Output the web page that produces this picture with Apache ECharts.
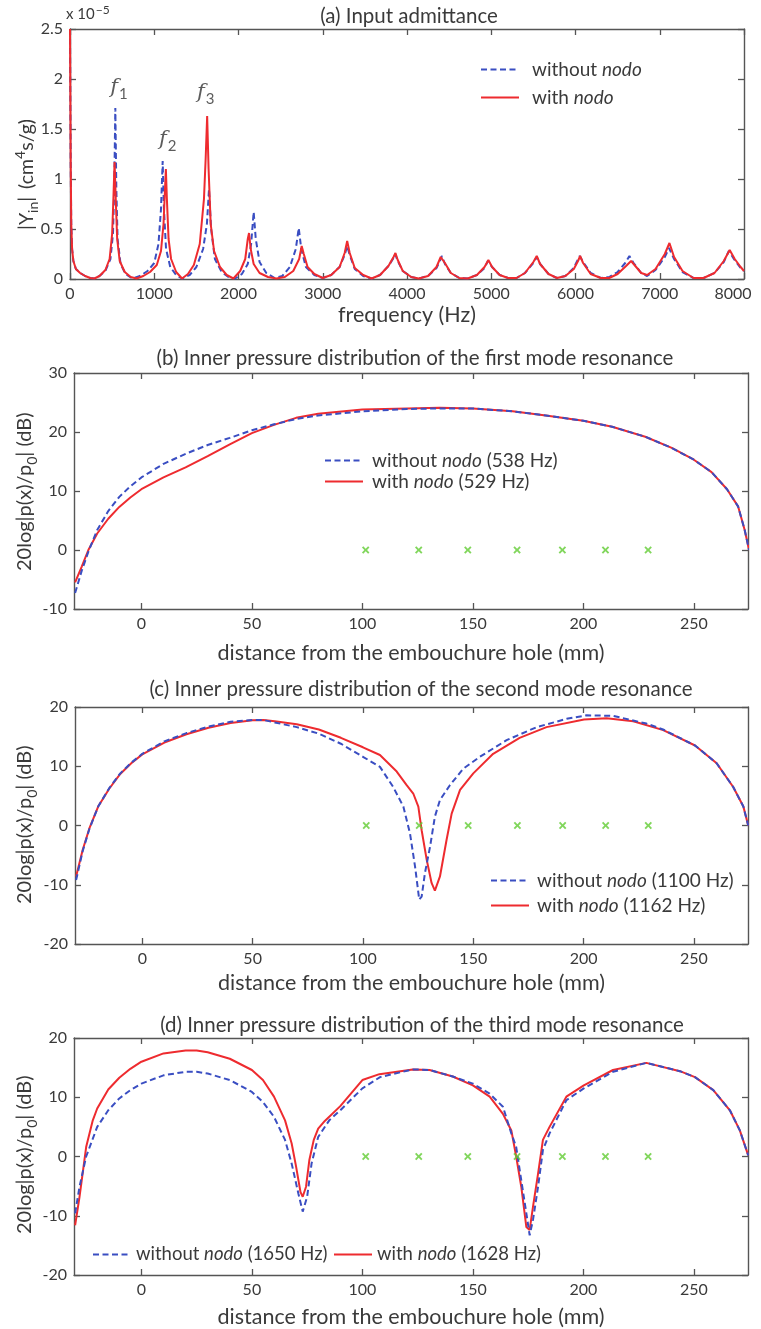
<!DOCTYPE html>
<html><head><meta charset="utf-8">
<script src="https://cdn.jsdelivr.net/npm/echarts@6/dist/echarts.min.js"></script>
<style>html,body{margin:0;padding:0;background:#fff}#c{width:761px;height:1329px}</style>
</head><body><div id="c"></div><script>
// ---------- Panel (a) data: input admittance (x1e-5 cm^4 s/g) ----------
const admFreqWithout = [0,8,15,25,40,70,120,180,240,290,350,420,480,510,525,538,550,565,600,660,740,830,920,1000,1050,1080,1100,1115,1140,1190,1260,1330,1420,1500,1580,1625,1650,1675,1720,1800,1880,1960,2040,2110,2150,2180,2205,2250,2330,2430,2520,2610,2680,2715,2745,2800,2900,3000,3100,3200,3260,3290,3320,3380,3480,3580,3680,3780,3840,3860,3890,3950,4050,4140,4250,4350,4400,4415,4450,4520,4620,4720,4830,4920,4960,5010,5100,5200,5300,5400,5500,5540,5580,5680,5780,5880,5980,6030,6050,6090,6180,6300,6400,6500,6590,6640,6690,6780,6850,6950,7060,7110,7170,7270,7400,7520,7650,7760,7820,7880,7960,8000];
const admWithout = [2.5,1.2,0.55,0.3,0.18,0.1,0.06,0.03,0.01,0.005,0.03,0.08,0.2,0.45,0.9,1.71,0.9,0.4,0.15,0.05,0.005,0.03,0.08,0.16,0.35,0.7,1.18,0.7,0.3,0.12,0.04,0.005,0.04,0.12,0.3,0.55,0.9,0.5,0.2,0.07,0.02,0.005,0.05,0.15,0.35,0.67,0.4,0.17,0.06,0.01,0.03,0.12,0.3,0.51,0.3,0.12,0.04,0.01,0.04,0.12,0.24,0.33,0.24,0.1,0.03,0.005,0.04,0.13,0.21,0.25,0.18,0.08,0.02,0.005,0.03,0.11,0.2,0.23,0.15,0.06,0.01,0.005,0.04,0.11,0.18,0.12,0.04,0.01,0.01,0.06,0.16,0.22,0.15,0.05,0.01,0.03,0.11,0.2,0.23,0.17,0.06,0.01,0.02,0.07,0.16,0.23,0.16,0.06,0.03,0.09,0.22,0.31,0.2,0.07,0.01,0.01,0.06,0.17,0.28,0.2,0.11,0.08];
const admFreqWith = [0,8,15,25,40,70,120,180,240,290,350,420,470,500,515,529,543,560,590,650,720,790,870,950,1030,1080,1110,1125,1138,1150,1170,1200,1260,1330,1400,1470,1540,1590,1610,1628,1645,1670,1710,1780,1860,1940,2020,2080,2110,2125,2145,2180,2250,2350,2450,2550,2650,2720,2750,2775,2820,2900,3000,3100,3200,3260,3290,3320,3380,3480,3580,3680,3780,3840,3863,3890,3950,4050,4140,4250,4350,4400,4420,4450,4520,4620,4720,4830,4920,4966,5010,5100,5200,5300,5400,5500,5540,5580,5680,5780,5880,5980,6030,6055,6090,6180,6300,6400,6500,6600,6660,6700,6780,6850,6950,7060,7115,7170,7270,7400,7520,7650,7760,7830,7890,7960,8000];
const admWith = [2.5,1.2,0.55,0.3,0.18,0.1,0.06,0.03,0.01,0.005,0.03,0.09,0.2,0.45,0.8,1.17,0.8,0.4,0.18,0.07,0.02,0.005,0.03,0.07,0.14,0.28,0.55,0.85,1.1,0.8,0.4,0.2,0.07,0.005,0.05,0.14,0.35,0.8,1.2,1.63,1.1,0.55,0.28,0.12,0.04,0.005,0.08,0.2,0.4,0.46,0.3,0.15,0.06,0.02,0.005,0.02,0.08,0.2,0.33,0.25,0.12,0.05,0.01,0.04,0.12,0.26,0.38,0.26,0.11,0.04,0.005,0.04,0.13,0.22,0.26,0.19,0.08,0.02,0.005,0.03,0.12,0.22,0.24,0.16,0.06,0.01,0.005,0.04,0.12,0.19,0.12,0.04,0.01,0.01,0.06,0.17,0.23,0.15,0.05,0.01,0.03,0.1,0.18,0.23,0.16,0.05,0.01,0.01,0.05,0.13,0.18,0.14,0.06,0.04,0.1,0.25,0.36,0.22,0.08,0.01,0.01,0.06,0.18,0.29,0.2,0.12,0.08];
const peakLabelFreq = [580, 1160, 1612];
const peakLabelVal = [1.91, 1.39, 1.86];
const peakLabelIdx = ['1', '2', '3'];

// ---------- Panels (b)-(d): inner pressure distribution (dB) ----------
const toneHoles = [101.5, 125.5, 147.7, 170, 190.5, 210, 229.3];

const bPosWithout = [-30,-27,-24,-20,-15,-10,-5,0,10,20,30,40,50,60,70,80,100,120,135,150,168,183,200,213,228,240,250,258,265,270,273,275];
const bWithout = [-7.3,-3.5,-0.3,3.4,6.6,9.0,10.8,12.3,14.6,16.3,17.8,19.0,20.3,21.3,22.2,22.8,23.5,23.9,24.0,24.0,23.5,22.8,21.9,20.9,19.2,17.3,15.3,13.2,10.3,7.4,3.4,0];
const bPosWith = [-30,-27,-24,-20,-15,-10,-5,0,10,20,30,40,50,60,70,80,100,120,135,150,168,183,200,213,228,240,250,258,265,270,273,275];
const bWith = [-5.5,-2.8,0,2.8,5.3,7.3,8.9,10.3,12.3,14.0,15.9,17.9,19.8,21.2,22.4,23.1,23.8,24.0,24.1,24.0,23.5,22.8,21.9,20.9,19.2,17.3,15.3,13.2,10.3,7.4,3.4,0];

const cPosWithout = [-30,-27,-24,-20,-15,-10,-5,0,10,20,30,40,50,55,60,70,80,90,100,107.7,113.7,118.3,121.3,123.6,125.5,126.6,128.1,130.4,132.6,134.9,139.4,145.5,153,165.1,178.7,192.3,201.4,213.4,228.5,236,250.5,260.3,267.8,272.4,274.6];
const cWithout = [-9.2,-4.3,-0.6,3.2,6.3,8.8,10.6,12.1,14.2,15.6,16.7,17.5,17.8,17.8,17.4,16.6,15.5,13.8,11.6,9.9,6.5,3.2,-1.3,-6.9,-12.5,-12.0,-8.0,-3.6,1.5,4.3,6.8,9.6,11.6,14.4,16.6,18.0,18.6,18.5,17.2,16.2,13.5,10.5,6.5,3.2,0];
const cPosWith = [-30,-27,-24,-20,-15,-10,-5,0,10,20,30,40,50,55,60,70,80,90,100,107.7,115.3,119.8,122.8,125.1,126.6,128.9,131.1,132.6,134.9,137.9,140.2,144,150,159,171,183.2,200.2,210.4,222.5,236.1,250.5,260.3,267.8,272.4,274.6];
const cWith = [-8.6,-4.1,-0.5,3.2,6.2,8.7,10.5,12.0,14.0,15.4,16.5,17.3,17.75,17.8,17.6,17.1,16.2,14.8,13.2,11.9,9.1,6.8,5.4,3.2,-0.8,-5.8,-9.7,-11.0,-8.6,-2.4,2.0,6.0,8.8,12.1,14.8,16.6,17.9,18.1,17.6,16.1,13.5,10.5,6.5,3.2,0];

const dPosWithout = [-30,-28,-25,-20,-15,-10,-5,0,10,20,25,30,40,50,55,60,65,68,71,73,75,77,80,85,90,100,108,122.8,130.4,140.9,150,157.6,163.6,167.4,169.6,171.9,174.2,175.7,177.2,179.5,181.7,184.7,192.3,200.2,213.4,228.5,243.7,250.5,258.8,266.3,270.8,274.6];
const dWithout = [-9.6,-5.1,0,5.0,7.8,9.8,11.2,12.3,13.7,14.3,14.3,14.0,12.9,10.9,9.2,6.7,2.8,-1.2,-6.2,-9.3,-6.8,-1.2,3.3,6.1,7.8,11.5,13.4,14.7,14.6,13.5,12.3,10.6,8.4,3.9,1.6,-4.0,-9.6,-13.3,-10.7,-5.1,1.1,3.9,9.5,11.5,14.3,15.8,14.4,13.4,11.2,7.8,4.4,0.2];
const dPosWith = [-30,-28,-25,-22,-20,-15,-10,-5,0,10,20,25,30,40,50,55,60,65,68,70,72,73,74.5,76,78,80,83,90,100,107.7,122.8,130.4,140.9,150,157.6,163.6,167.4,169.6,171.9,174.2,175.7,177.2,179.5,181.7,184.7,192.3,200.2,213.4,228.5,243.7,250.5,258.8,266.3,270.8,274.6];
const dWith = [-11.6,-6.8,1.6,6.1,8.1,11.3,13.3,14.8,16.0,17.4,17.9,17.9,17.6,16.5,14.6,12.9,10.1,6.1,2.2,-1.7,-6.0,-6.8,-5.1,-0.6,2.8,4.7,6.0,8.5,12.9,13.9,14.7,14.6,13.5,12.0,10.1,7.2,4.4,0,-5.1,-11.9,-12.4,-8.5,-2.9,2.8,5.0,10.1,12.0,14.6,15.8,14.4,13.4,11.2,7.8,4.4,0.2];

// ---------- styling ----------
const FONT = 'Lato';
const RED = '#ee2b2f';
const BLUE = '#3a4ec2';
const GREEN = '#62cc33';
const AXC = '#555';
const TXT = '#3a3a3a';

const pairs = (xs, ys) => xs.map((x, i) => [x, ys[i]]);
const xSym = 'path://M0,1.8L1.8,0L5,3.2L8.2,0L10,1.8L6.8,5L10,8.2L8.2,10L5,6.8L1.8,10L0,8.2L3.2,5Z';

const grids = [
  {left: 70, width: 674, top: 29, height: 250, outerBoundsMode: 'none'},
  {left: 74, width: 674, top: 373, height: 236, outerBoundsMode: 'none'},
  {left: 75, width: 673, top: 707, height: 237, outerBoundsMode: 'none'},
  {left: 74, width: 674, top: 1038, height: 237, outerBoundsMode: 'none'}
];

const tickStyle = {inside: true, length: 6, lineStyle: {color: AXC, width: 1.3}};
const axLine = {onZero: false, lineStyle: {color: AXC, width: 1.4}};
const labelStyle = {color: TXT, fontFamily: FONT, fontSize: 16, margin: 7, formatter: v => String(v)};
const nameStyle = {color: TXT, fontFamily: FONT, fontSize: 21.5};

const distTicks = [0, 50, 100, 150, 200, 250];
const xAxes = [], yAxes = [];
// panel a
xAxes.push({gridIndex: 0, type: 'value', min: 0, max: 8000, interval: 1000, position: 'bottom',
  axisLine: axLine, axisTick: tickStyle,
  axisLabel: Object.assign({}, labelStyle, {formatter: v => v === 8000 ? '{r|8000}' : String(v),
    rich: {r: {fontFamily: FONT, fontSize: 16, color: TXT, padding: [0, 22, 0, 0]}}}),
  splitLine: {show: false},
  name: 'frequency (Hz)', nameLocation: 'middle', nameGap: 25, nameTextStyle: nameStyle});
xAxes.push({gridIndex: 0, type: 'value', min: 0, max: 8000, interval: 1000, position: 'top',
  axisLine: axLine, axisTick: tickStyle, axisLabel: {show: false}, splitLine: {show: false}});
yAxes.push({gridIndex: 0, type: 'value', min: 0, max: 2.5, interval: 0.5, position: 'left',
  axisLine: axLine, axisTick: tickStyle, axisLabel: labelStyle, splitLine: {show: false}});
yAxes.push({gridIndex: 0, type: 'value', min: 0, max: 2.5, interval: 0.5, position: 'right',
  axisLine: axLine, axisTick: tickStyle, axisLabel: {show: false}, splitLine: {show: false}});

const yRanges = [null, [-10, 30], [-20, 20], [-20, 20]];
const xNameGaps = [null, 33, 28, 31];
for (let g = 1; g <= 3; g++) {
  xAxes.push({gridIndex: g, type: 'value', min: -30.5, max: 274.5, position: 'bottom',
    axisLine: axLine, axisTick: Object.assign({customValues: distTicks}, tickStyle),
    axisLabel: Object.assign({customValues: distTicks}, labelStyle), splitLine: {show: false},
    name: 'distance from the embouchure hole (mm)', nameLocation: 'middle', nameGap: xNameGaps[g], nameTextStyle: nameStyle});
  xAxes.push({gridIndex: g, type: 'value', min: -30.5, max: 274.5, position: 'top',
    axisLine: axLine, axisTick: Object.assign({customValues: distTicks}, tickStyle),
    axisLabel: {show: false}, splitLine: {show: false}});
  yAxes.push({gridIndex: g, type: 'value', min: yRanges[g][0], max: yRanges[g][1], interval: 10, position: 'left',
    axisLine: axLine, axisTick: tickStyle, axisLabel: labelStyle, splitLine: {show: false}});
  yAxes.push({gridIndex: g, type: 'value', min: yRanges[g][0], max: yRanges[g][1], interval: 10, position: 'right',
    axisLine: axLine, axisTick: tickStyle, axisLabel: {show: false}, splitLine: {show: false}});
}

function lineSeries(name, g, data, color, dashed, z) {
  return {name, type: 'line', xAxisIndex: g * 2, yAxisIndex: g * 2, data, symbol: 'none', z,
    lineStyle: {color, width: 2, type: dashed ? [6, 3.5] : 'solid'}, itemStyle: {color}, animation: false};
}
function holeSeries(g) {
  return {name: 'holes' + g, type: 'scatter', xAxisIndex: g * 2, yAxisIndex: g * 2,
    data: toneHoles.map(x => [x, 0]), symbol: xSym, symbolSize: 7.5, itemStyle: {color: GREEN}, z: 5, animation: false};
}

const series = [
  lineSeries('without nodo', 0, pairs(admFreqWithout, admWithout), BLUE, true, 2),
  lineSeries('with nodo', 0, pairs(admFreqWith, admWith), RED, false, 3),
  {name: 'peaks', type: 'scatter', xAxisIndex: 0, yAxisIndex: 0, symbolSize: 0,
    data: peakLabelFreq.map((f, i) => [f, peakLabelVal[i], peakLabelIdx[i]]),
    label: {show: true, position: 'inside', formatter: p => '{f|f}{s|' + p.data[2] + '}',
      rich: {f: {fontFamily: 'DejaVu Serif', fontStyle: 'italic', fontSize: 21, color: '#333', lineHeight: 28},
             s: {fontFamily: FONT, fontSize: 15, color: '#333', verticalAlign: 'bottom', lineHeight: 14, padding: [0, 0, 0, 1]}}},
    animation: false},
  lineSeries('with nodo (529 Hz)', 1, pairs(bPosWith, bWith), RED, false, 2),
  lineSeries('without nodo (538 Hz)', 1, pairs(bPosWithout, bWithout), BLUE, true, 3),
  holeSeries(1),
  lineSeries('with nodo (1162 Hz)', 2, pairs(cPosWith, cWith), RED, false, 2),
  lineSeries('without nodo (1100 Hz)', 2, pairs(cPosWithout, cWithout), BLUE, true, 3),
  holeSeries(2),
  lineSeries('with nodo (1628 Hz)', 3, pairs(dPosWith, dWith), RED, false, 2),
  lineSeries('without nodo (1650 Hz)', 3, pairs(dPosWithout, dWithout), BLUE, true, 3),
  holeSeries(3)
];

const legRich = (fs, sp) => ({
  g: {width: sp, fontSize: fs, lineHeight: fs + 2},
  t: {fontFamily: FONT, fontSize: fs, color: TXT, lineHeight: fs + 2},
  i: {fontFamily: FONT, fontSize: fs, color: TXT, fontStyle: 'italic', lineHeight: fs + 2}});
const legFmt = n => '{g|}{t|' + n.replace('nodo', '}{i|nodo}{t|') + '}';
function makeLegend(data, pos, fs, gap, sp) {
  return Object.assign({data, orient: 'vertical', itemWidth: 38, itemHeight: 14, itemGap: gap,
    formatter: legFmt, textStyle: {fontFamily: FONT, fontSize: fs, color: TXT, rich: legRich(fs, sp)},
    itemStyle: {opacity: 0}, selectedMode: false}, pos);
}

const titles = [
  '(a) Input admittance',
  '(b) Inner pressure distribution of the first mode resonance',
  '(c) Inner pressure distribution of the second mode resonance',
  '(d) Inner pressure distribution of the third mode resonance'
];
const titleTops = [1, 343, 674, 1010];
const titleCenters = [404, 410, 416, 417];

// rotated y-axis names (rich text for sub/superscripts), anchored at their lower end
const yNameRich = (fs, ss) => ({
  m: {fontFamily: FONT, fontSize: fs, fill: TXT, lineHeight: fs + 8},
  w: {fontFamily: FONT, fontSize: fs, fill: TXT, lineHeight: fs + 8, width: 8},
  sub: {fontFamily: FONT, fontSize: ss, fill: TXT, verticalAlign: 'bottom', lineHeight: ss - 1},
  sup: {fontFamily: FONT, fontSize: ss, fill: TXT, verticalAlign: 'top', lineHeight: ss - 1}
});
const yNameA = '{m||Y}{sub|in}{m||}{w|}{m|(cm}{sup|4}{m|s/g)}';
const yNameP = '{m|20log|p(x)/p}{sub|0}{m|| (dB)}';
const yNames = [[yNameA, 27, 230, 19.5, 14], [yNameP, 25, 571, 20, 14], [yNameP, 25, 904, 20, 14], [yNameP, 25, 1234, 20, 14]];

const graphic = yNames.map(([txt, x, y, fs, ss]) => ({type: 'text', x, y, rotation: Math.PI / 2,
  style: {text: txt, align: 'left', verticalAlign: 'middle', fontFamily: FONT, fontSize: fs, fill: TXT, rich: yNameRich(fs, ss)}}));
graphic.push({type: 'text', left: 66, top: 4, style: {text: 'x 10{s|−5}', fontFamily: FONT, fontSize: 15, fill: TXT,
  rich: {s: {fontFamily: FONT, fontSize: 12, fill: TXT, verticalAlign: 'top', padding: [0, 0, 8, 1]}}}});

const option = {
  backgroundColor: '#fff',
  animation: false,
  title: titles.map((t, i) => ({text: t, left: titleCenters[i], top: titleTops[i], textAlign: 'center',
    textStyle: {fontFamily: FONT, fontSize: 20.5, fontWeight: 'normal', color: TXT}})),
  grid: grids,
  xAxis: xAxes,
  yAxis: yAxes,
  legend: [
    makeLegend(['without nodo', 'with nodo'], {left: 475, top: 55}, 19, 9, 8),
    makeLegend(['without nodo (538 Hz)', 'with nodo (529 Hz)'], {left: 319, top: 446}, 19, 2, 4),
    makeLegend(['without nodo (1100 Hz)', 'with nodo (1162 Hz)'], {left: 485, top: 866}, 19, 6, 3),
    makeLegend(['without nodo (1650 Hz)'], {left: 87, top: 1240}, 18.5, 0, 0),
    makeLegend(['with nodo (1628 Hz)'], {left: 328, top: 1240}, 18.5, 0, 0)
  ],
  graphic,
  series
};

const chart = echarts.init(document.getElementById('c'), null, {renderer: 'canvas'});
chart.setOption(option);
</script></body></html>
